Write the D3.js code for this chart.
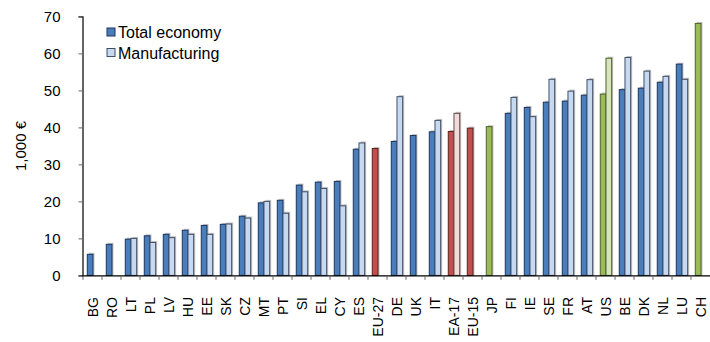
<!DOCTYPE html>
<html><head><meta charset="utf-8">
<script src="https://cdn.jsdelivr.net/npm/d3@7"></script>
<style>body{margin:0;background:#fff}svg{display:block;font-family:"Liberation Sans",Arial,sans-serif}</style>
</head><body><svg id="c" width="710" height="342"></svg>
<script>
const categories = ["BG","RO","LT","PL","LV","HU","EE","SK","CZ","MT","PT","SI","EL","CY","ES","EU-27","DE","UK","IT","EA-17","EU-15","JP","FI","IE","SE","FR","AT","US","BE","DK","NL","LU","CH"];
const totalEconomy = [5.7,8.4,9.8,10.7,11.1,12.2,13.5,13.8,16.0,19.6,20.3,24.4,25.2,25.4,34.1,34.3,36.2,37.8,38.8,38.9,39.8,40.2,43.8,45.4,46.8,47.1,48.7,49.0,50.2,50.6,52.2,57.1,68.1];
const manufacturing = [null,null,10.0,8.9,10.2,11.1,11.1,13.9,15.5,20.0,16.8,22.6,23.5,18.8,35.8,null,48.3,null,41.9,43.8,null,null,48.1,42.9,53.0,49.8,52.9,58.7,58.9,55.2,53.8,53.0,null];
const groups = ["EU-27","EA-17","EU-15"];      // aggregates (red)
const nonEU = ["JP","US","CH"];               // non-EU (green)
const yTicks = [0,10,20,30,40,50,60,70];
const seriesNames = ["Total economy","Manufacturing"];

const pal = {
  blue:  {t:"#4a7ebb", ts:"#1c355e", m:"#c6d9f1", ms:"#3f4f66"},
  red:   {t:"#c0504d", ts:"#5e1f1d", m:"#f2dcdb", ms:"#6b4a4a"},
  green: {t:"#9bbb59", ts:"#4f6228", m:"#d7e4bd", ms:"#4f6228"}
};
function palOf(c){ return groups.includes(c) ? pal.red : nonEU.includes(c) ? pal.green : pal.blue; }

const svg = d3.select("#c");
const x = d3.scaleBand().domain(categories).range([83, 710]).padding(0);
const y = d3.scaleLinear().domain([0,70]).range([275.4, 16.4]);
const bw = x.bandwidth();
const barW = bw*0.30;
const offT = bw*0.225, offM = offT + barW;

// y axis
const ya = svg.append("g").attr("transform","translate(82.5,0)")
  .call(d3.axisLeft(y).tickValues(yTicks).tickSize(4).tickPadding(18).tickFormat(d3.format("d")));
ya.select(".domain").attr("stroke","#000").attr("stroke-width",1.2);
ya.selectAll(".tick line").attr("stroke","#666");
ya.selectAll("text").attr("font-size",15).attr("fill","#000").attr("font-family","Liberation Sans, Arial");

svg.append("text").attr("transform","translate(26,146) rotate(-90)")
  .attr("text-anchor","middle").attr("font-size",15).text("1,000 €");

// bars
const data = categories.map((c,i)=>({c, t: totalEconomy[i], m: manufacturing[i]}));
const g = svg.append("g");
data.forEach(d=>{
  const p = palOf(d.c);
  const bx = x(d.c);
  const draw = (v, off, fill, stroke) => {
    if (v == null) return;
    g.append("rect").attr("x", bx+off+1.5).attr("y", y(v)-1.5).attr("width", barW).attr("height", y(0)-y(v)+1.5)
      .attr("fill","#9a9a9a").attr("opacity",0.6);
    g.append("rect").attr("x", bx+off).attr("y", y(v)).attr("width", barW).attr("height", y(0)-y(v))
      .attr("fill", fill).attr("stroke", stroke).attr("stroke-width", 1);
  };
  draw(d.t, offT, p.t, p.ts);
  draw(d.m, offM, p.m, p.ms);
});

// x axis
const xa = svg.append("g").attr("transform","translate(0,275.8)");
xa.append("line").attr("x1",82).attr("x2",710).attr("y1",0).attr("y2",0).attr("stroke","#000").attr("stroke-width",1.2);
const bounds = categories.map(c=>x(c));
xa.selectAll("line.t").data(bounds).join("line").attr("class","t")
  .attr("x1",d=>d).attr("x2",d=>d).attr("y1",0).attr("y2",4).attr("stroke","#666");
xa.selectAll("text").data(categories).join("text")
  .attr("transform", d=>`translate(${x(d)+bw/2+5},${297-275.8}) rotate(-90)`)
  .attr("text-anchor","end").attr("font-size",14).text(d=>d);

// legend
const leg = svg.append("g");
[["Total economy", pal.blue.t, pal.blue.ts],["Manufacturing", pal.blue.m, pal.blue.ms]].forEach((l,i)=>{
  const ly = 33 + i*20.5;
  leg.append("rect").attr("x",107).attr("y",ly-5).attr("width",8).attr("height",8).attr("fill",l[1]).attr("stroke",l[2]).attr("stroke-width",1);
  leg.append("text").attr("x",118).attr("y",ly+5.3).attr("font-size",16).text(l[0]);
});
</script></body></html>
